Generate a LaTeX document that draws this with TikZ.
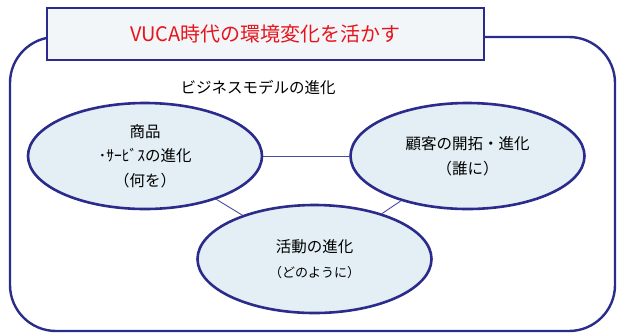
\documentclass[tikz,border=0pt]{standalone}
\usepackage{fontspec}
\setmainfont{Noto Sans CJK JP}
\usetikzlibrary{shapes.geometric}
\definecolor{navy}{HTML}{2B2B8C}
\definecolor{ellfill}{HTML}{E3EFF4}
\definecolor{titlefill}{HTML}{F3F6F9}
\definecolor{titlered}{HTML}{E8141C}
\definecolor{linkcol}{HTML}{4A4A9E}
\begin{document}
\begin{tikzpicture}[x=1bp,y=-1bp,
  oval/.style={ellipse,draw=navy,line width=2.6bp,fill=ellfill,minimum width=234bp,minimum height=106bp,inner sep=0pt,align=center,font=\fontsize{15.5bp}{24.5bp}\selectfont,text=black},
  link/.style={draw=linkcol,line width=0.9bp},
  frame/.style={draw=navy,line width=2.4bp,rounded corners=46bp}]
\useasboundingbox (0,0) rectangle (619,333);
\draw[frame] (10,37) rectangle (615,331);
\node[draw=navy,line width=1.8bp,fill=titlefill,minimum width=437bp,minimum height=52bp,inner sep=0pt,text=titlered,font=\fontsize{20bp}{24bp}\selectfont] (title) at (265.5,34) {VUCA時代の環境変化を活かす};
\node[font=\fontsize{15.5bp}{18bp}\selectfont,text=black] (sub) at (258,87) {ビジネスモデルの進化};
\node[oval] (L) at (145,156) {商品\\･ｻｰﾋﾞｽの進化\\（何を）};
\node[oval] (R) at (467.5,156) {顧客の開拓・進化\\（誰に）};
\node[oval,minimum height=108bp] (B) at (314.5,259) {活動の進化\\[1bp]{\fontsize{13bp}{16bp}\selectfont （どのように）}};
\draw[link] (L) -- (R);
\draw[link] (L) -- (B);
\draw[link] (R) -- (B);
\end{tikzpicture}
\end{document}
